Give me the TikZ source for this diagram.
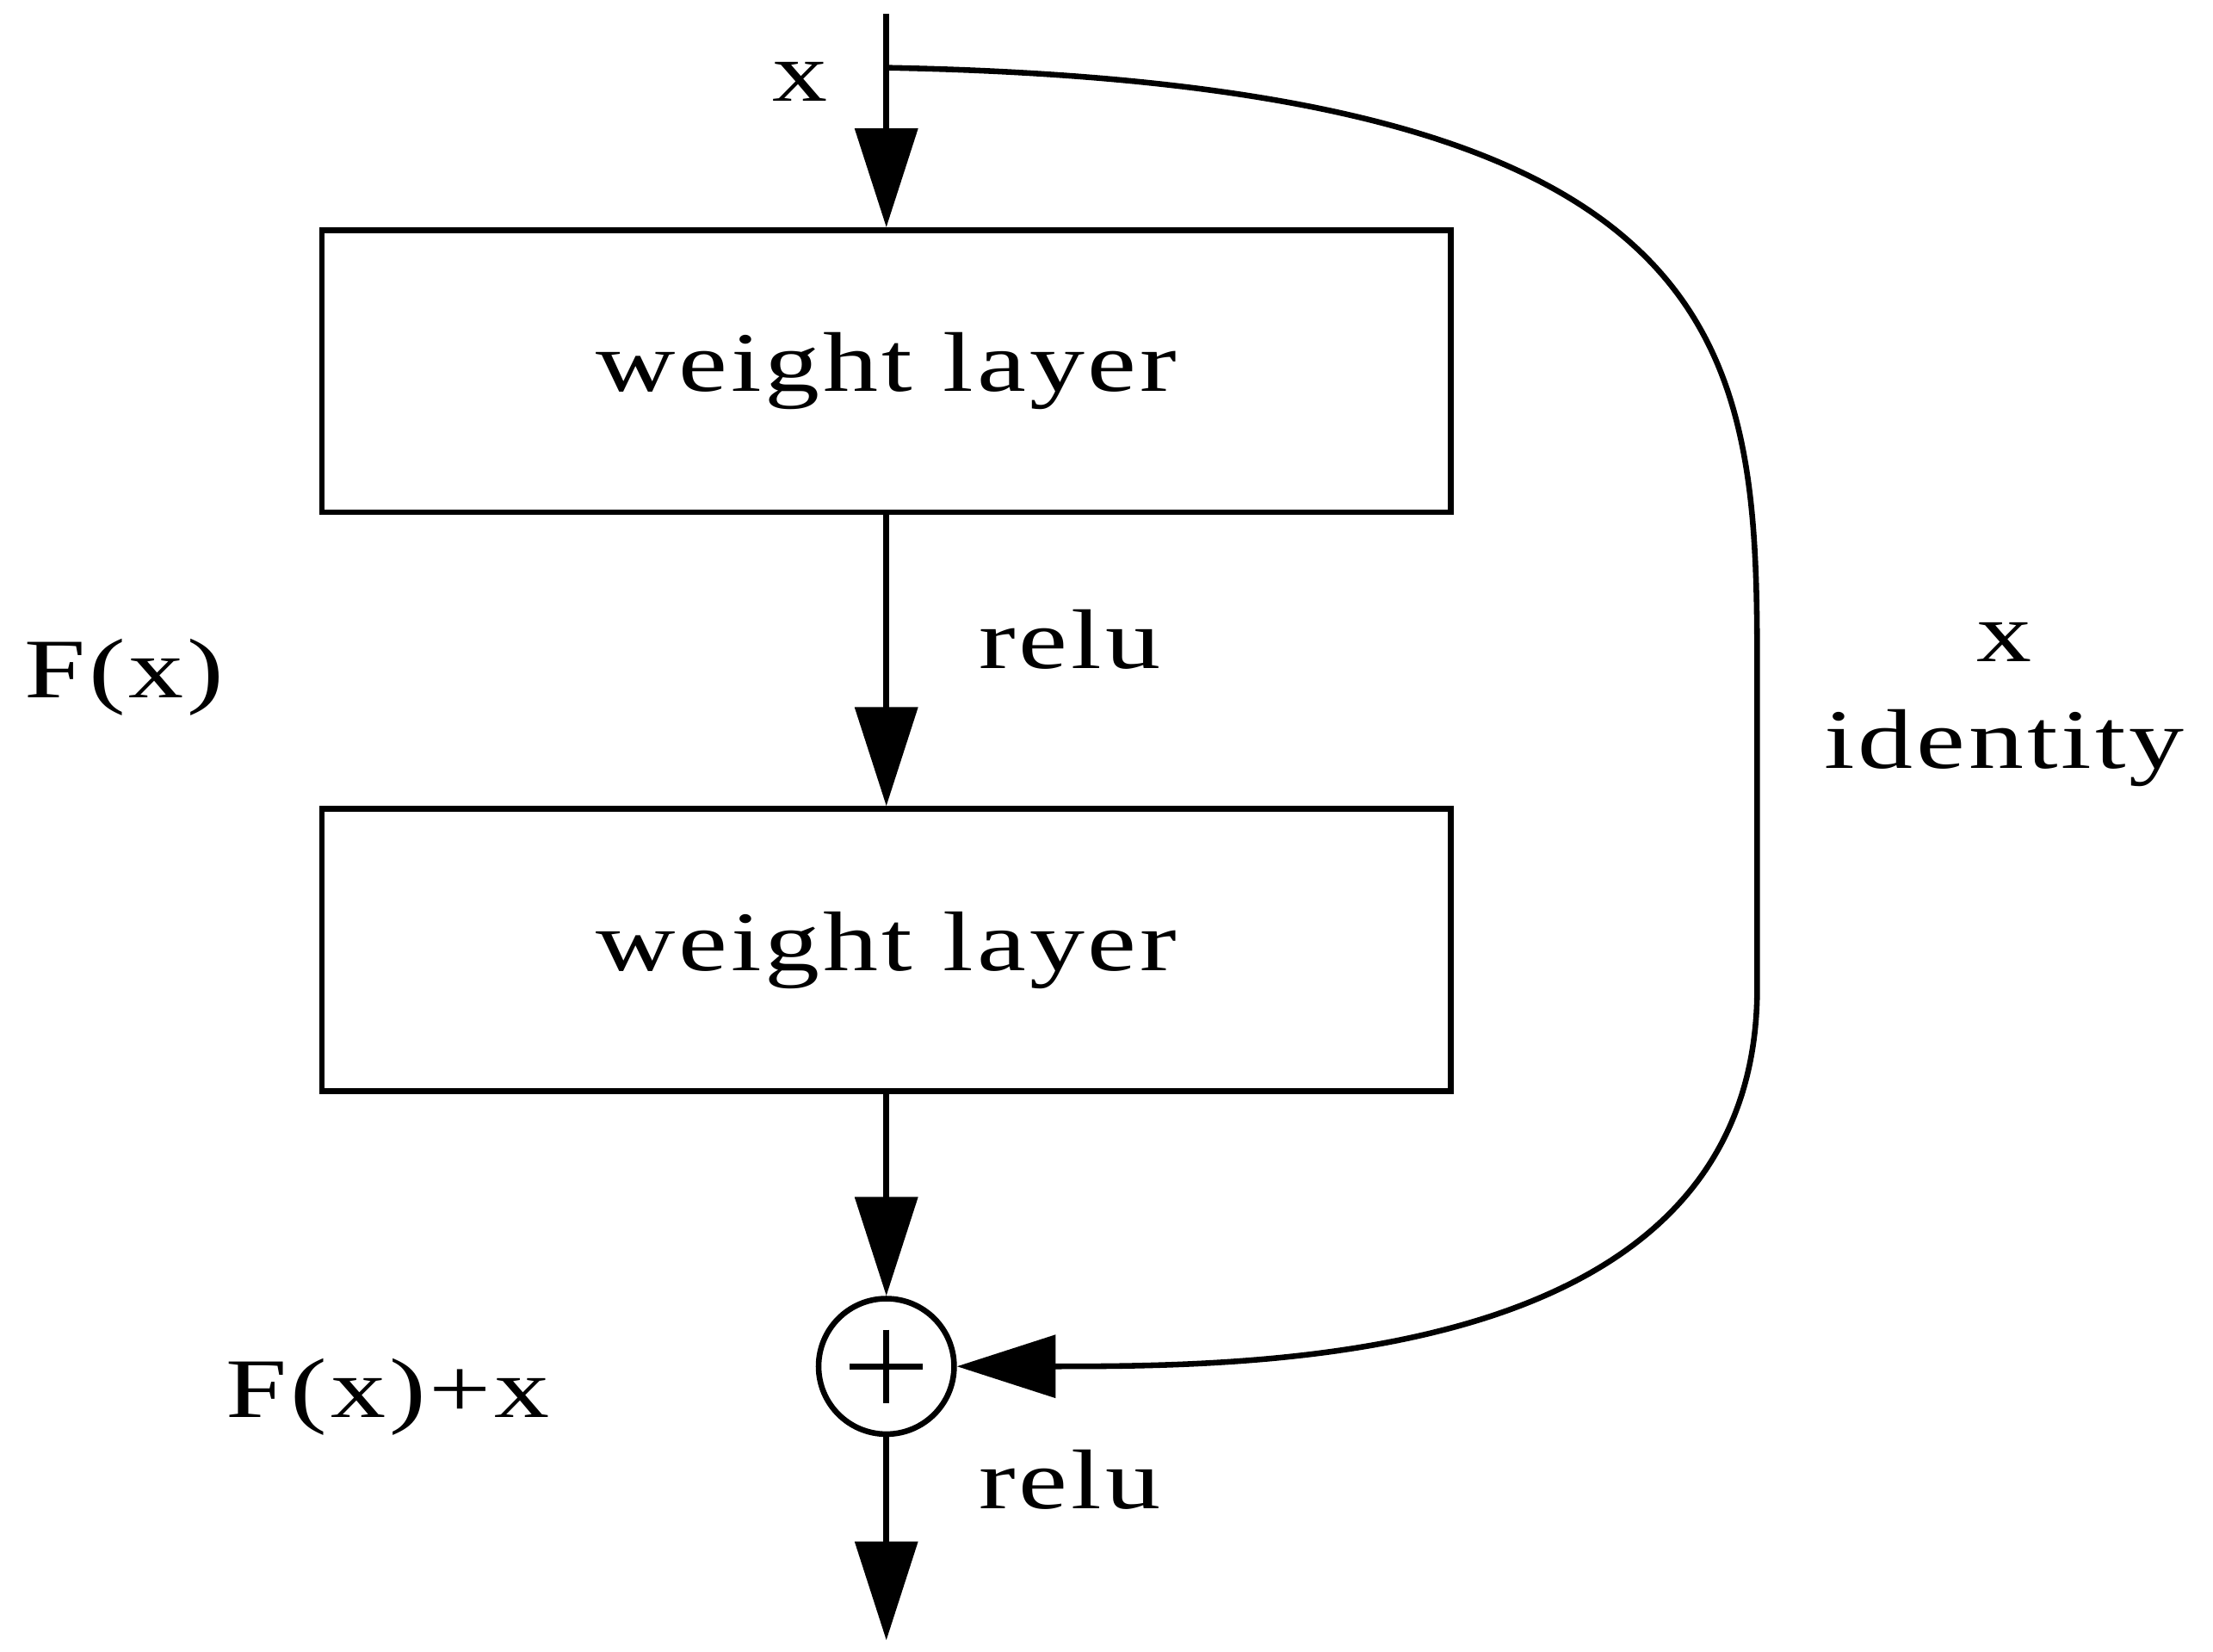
\documentclass[tikz,border=0pt]{standalone}
\usepackage{fontspec}
\setmainfont{Liberation Serif}[FakeStretch=1.3,LetterSpace=4]
\usetikzlibrary{arrows.meta}
\begin{document}
\begin{tikzpicture}[x=1pt,y=-1pt,
  box/.style={draw,line width=4pt,minimum width=800pt,minimum height=200pt,font=\fontsize{60}{62}\selectfont},
  lbl/.style={font=\fontsize{60}{62}\selectfont},
  arr/.style={line width=4pt,-{Triangle[length=70pt,width=44pt]}}]
\useasboundingbox (0,0) rectangle (1568,1170);
\coordinate (top) at (628,10);
\coordinate (out) at (628,1162);
\node[box] (b1) at (628,263) {weight layer};
\node[box] (b2) at (628,673) {weight layer};
\node[draw,circle,line width=4pt,minimum size=96pt,inner sep=0pt] (sum) at (628,968) {};
\draw[line width=4pt] (sum.center) +(-26,0) -- +(26,0) (sum.center) +(0,-26) -- +(0,26);
\draw[arr] (top) -- (b1.north);
\draw[arr] (b1.south) -- (b2.north);
\draw[arr] (b2.south) -- (sum.north);
\draw[arr] (sum.south) -- (out);
\coordinate (s0) at (630,48);
\coordinate (s1) at (1245,480);
\coordinate (s2) at (1245,700);
\draw[arr] (s0) .. controls (1240,60) and (1245,250) .. (s1) -- (s2) .. controls (1245,965) and (900,968) .. (sum.east);
\node[lbl] (lx) at (567,58) {x};
\node[lbl] (lr1) at (758,453) {relu};
\node[lbl] (lf) at (88,480) {F(x)};
\node[lbl] (lx2) at (1420,455) {x};
\node[lbl] (lid) at (1420,530) {identity};
\node[lbl] (lfx) at (275,990) {F(x)+x};
\node[lbl] (lr2) at (758,1048) {relu};
\end{tikzpicture}
\end{document}
